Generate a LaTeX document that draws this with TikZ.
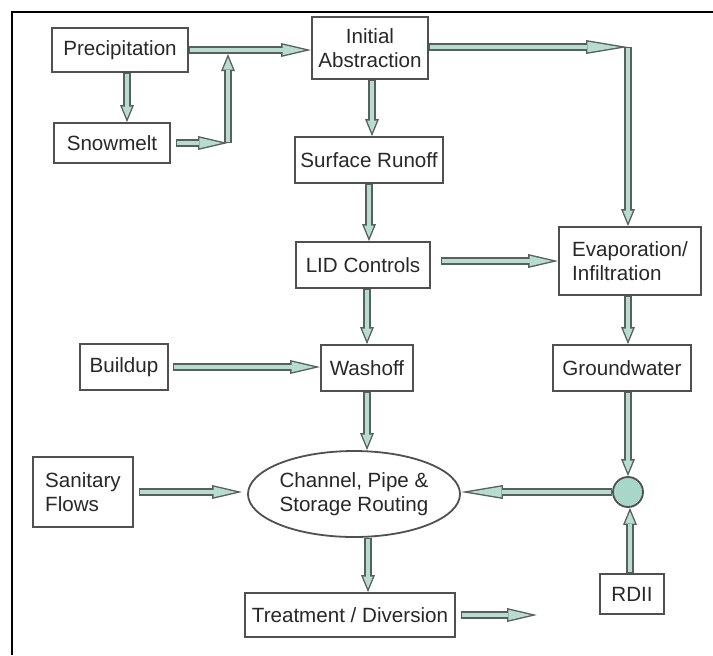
\documentclass[tikz,border=0pt]{standalone}
\usepackage{fontspec}
\setmainfont{Liberation Sans}
\usepackage{xcolor}
\usepackage{tikz}
\usetikzlibrary{arrows.meta,shapes.geometric}
\definecolor{flowfill}{RGB}{184,221,208}
\definecolor{flowedge}{RGB}{88,96,94}
\definecolor{boxedge}{RGB}{80,80,80}
\definecolor{inktext}{RGB}{40,40,40}
\definecolor{hubfill}{RGB}{168,214,200}

\begin{document}
\begin{tikzpicture}[x=0.5pt,y=-0.5pt]
\tikzstyle{box}=[draw=boxedge,line width=0.9pt,fill=white,text=inktext,inner sep=0pt,align=center,font=\fontsize{10.3}{12.3}\selectfont]
\tikzstyle{hflow}=[draw=flowedge,line width=3.6pt,-{Triangle[length=15pt,width=7pt,line width'=0pt]},postaction={draw=flowfill,line width=2.2pt,shorten <=0.7pt,shorten >=3.08pt,-{Triangle[length=11.22pt,width=5.24pt,line width'=0pt]}}]
\tikzstyle{vflow}=[draw=flowedge,line width=3.6pt,-{Triangle[length=8.5pt,width=7pt,line width'=0pt]},postaction={draw=flowfill,line width=2.2pt,shorten <=0.7pt,shorten >=1.84pt,-{Triangle[length=5.96pt,width=4.91pt,line width'=0pt]}}]
\tikzstyle{lflow}=[draw=flowedge,line width=3.6pt,-{Triangle[length=21pt,width=7pt,line width'=0pt]},postaction={draw=flowfill,line width=2.2pt,shorten <=0.7pt,shorten >=4.26pt,-{Triangle[length=16.04pt,width=5.35pt,line width'=0pt]}}]
\useasboundingbox (0,0) rectangle (713,655);
% frame
\draw[line width=1pt] (12,655) -- (12,12) -- (713,12);
% boxes
\node[box,minimum width=68pt,minimum height=22pt] (prec) at (120,50) {Precipitation};
\node[box,minimum width=58pt,minimum height=20pt] (snow) at (112,143) {Snowmelt};
\node[box,minimum width=58pt,minimum height=31pt] (init) at (370,48) {Initial\\Abstraction};
\node[box,minimum width=74pt,minimum height=23pt] (surf) at (369,160) {Surface Runoff};
\node[box,minimum width=67pt,minimum height=23pt] (lid) at (363,265) {LID Controls};
\node[box,minimum width=71pt,minimum height=34pt,align=left] (evap) at (630,261) {Evaporation/\\Infiltration};
\node[box,minimum width=44pt,minimum height=23pt] (build) at (124,367) {Buildup};
\node[box,minimum width=46pt,minimum height=23pt] (wash) at (367,368) {Washoff};
\node[box,minimum width=69pt,minimum height=23pt] (ground) at (622,368) {Groundwater};
\node[box,minimum width=50pt,minimum height=35pt,align=left] (sanit) at (83,492) {Sanitary\\Flows};
\node[box,ellipse,minimum width=106pt,minimum height=43pt] (route) at (354,494) {Channel, Pipe \&\\Storage Routing};
\node[circle,draw=boxedge,line width=0.9pt,fill=hubfill,minimum size=15pt,inner sep=0pt] (hub) at (628,492) {};
\node[box,minimum width=32pt,minimum height=20pt] (rdii) at (632,594) {RDII};
\node[box,minimum width=105pt,minimum height=22pt] (treat) at (350,615) {Treatment / Diversion};
% corners
\coordinate (snowjoin) at (228,143);
\coordinate (precjoin) at (228,54);
\coordinate (evapcorner) at (628,47);
\coordinate (treatout) at (537,615);
% flows
\draw[hflow] (prec.east) -- (prec.east -| init.west);
\draw[vflow] ([xshift=3.5pt]prec.south) -- ([xshift=3.5pt]prec.south |- snow.north);
\draw[hflow] ([xshift=2.5pt]snow.east) -- (snowjoin);
\draw[vflow] (snowjoin) -- (precjoin);
\draw[lflow] (init.east |- evapcorner) -- (evapcorner);
\draw[vflow] (evapcorner) -- (evapcorner |- evap.north);
\draw[vflow] ([xshift=1pt]init.south) -- ([xshift=1pt]init.south |- surf.north);
\draw[vflow] (surf.south) -- (surf.south |- lid.north);
\draw[hflow] ([xshift=5pt]lid.east |- evap.west) -- (evap.west);
\draw[vflow] (wash.north |- lid.south) -- (wash.north);
\draw[hflow] ([xshift=2pt]build.east) -- (build.east -| wash.west);
\draw[vflow] (evap.south -| hub.north) -- (hub.north |- ground.north);
\draw[vflow] (wash.south) -- (wash.south |- route.north);
\draw[vflow] (hub.north |- ground.south) -- (hub.north);
\draw[lflow] (hub.west) -- (hub.west -| route.east);
\draw[vflow] ([xshift=-1pt]rdii.north) -- ([xshift=-1pt]rdii.north |- hub.south);
\draw[hflow] ([xshift=2.5pt]sanit.east) -- ([xshift=-2.5pt]sanit.east -| route.west);
\draw[vflow] ([xshift=7pt]route.south) -- ([xshift=7pt]route.south |- treat.north);
\draw[hflow] ([xshift=2.5pt]treat.east) -- (treatout);
\end{tikzpicture}
\end{document}
